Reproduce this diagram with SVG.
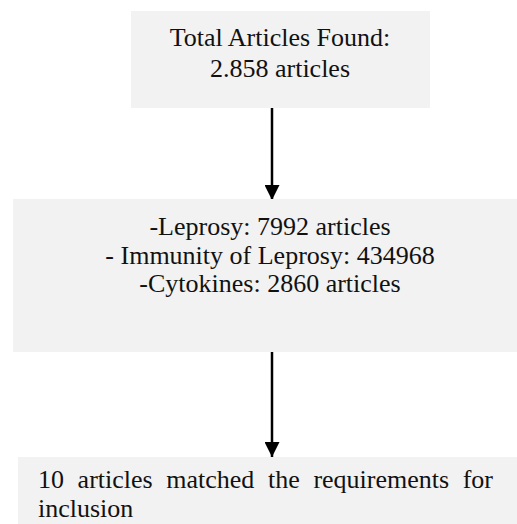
<svg xmlns="http://www.w3.org/2000/svg" width="517" height="524" viewBox="0 0 517 524">
  <defs>
    <style>
      .box { fill: #f2f2f2; }
      .edge { stroke: #000; stroke-width: 2.5; fill: none; }
    </style>
    <marker id="head" viewBox="0 0 10 10" refX="10" refY="5" markerWidth="6.8" markerHeight="6" markerUnits="strokeWidth" orient="auto">
      <path d="M0,0 L10,5 L0,10 z" fill="#000"/>
    </marker>
  </defs>
  <rect width="517" height="524" fill="#fff"/>

  <g id="connectors">
    <line class="edge" x1="272" y1="108" x2="272" y2="200" marker-end="url(#head)"/>
    <line class="edge" x1="272" y1="352" x2="272" y2="457" marker-end="url(#head)"/>
  </g>

  <g font-family="Liberation Serif, Times New Roman, serif" font-size="26" fill="#111">
    <g id="node-total">
      <rect class="box" x="131" y="11" width="299" height="97"/>
      <text x="280" y="46" text-anchor="middle">Total Articles Found:</text>
      <text x="280" y="77" text-anchor="middle">2.858 articles</text>
    </g>

    <g id="node-search">
      <rect class="box" x="13" y="199" width="504" height="153"/>
      <text x="270" y="235" text-anchor="middle">-Leprosy: 7992 articles</text>
      <text x="270" y="264" text-anchor="middle">- Immunity of Leprosy: 434968</text>
      <text x="270" y="292" text-anchor="middle">-Cytokines: 2860 articles</text>
    </g>

    <g id="node-included">
      <rect class="box" x="18" y="457" width="499" height="67"/>
      <!-- justified first line: words spread between x=38 and x=493 -->
      <text y="488">
        <tspan x="38">10</tspan>
        <tspan x="77.6">articles</tspan>
        <tspan x="166.3">matched</tspan>
        <tspan x="268">the</tspan>
        <tspan x="313.4">requirements</tspan>
      </text>
      <text x="493" y="488" text-anchor="end">for</text>
      <text x="38" y="517">inclusion</text>
    </g>
  </g>
</svg>
